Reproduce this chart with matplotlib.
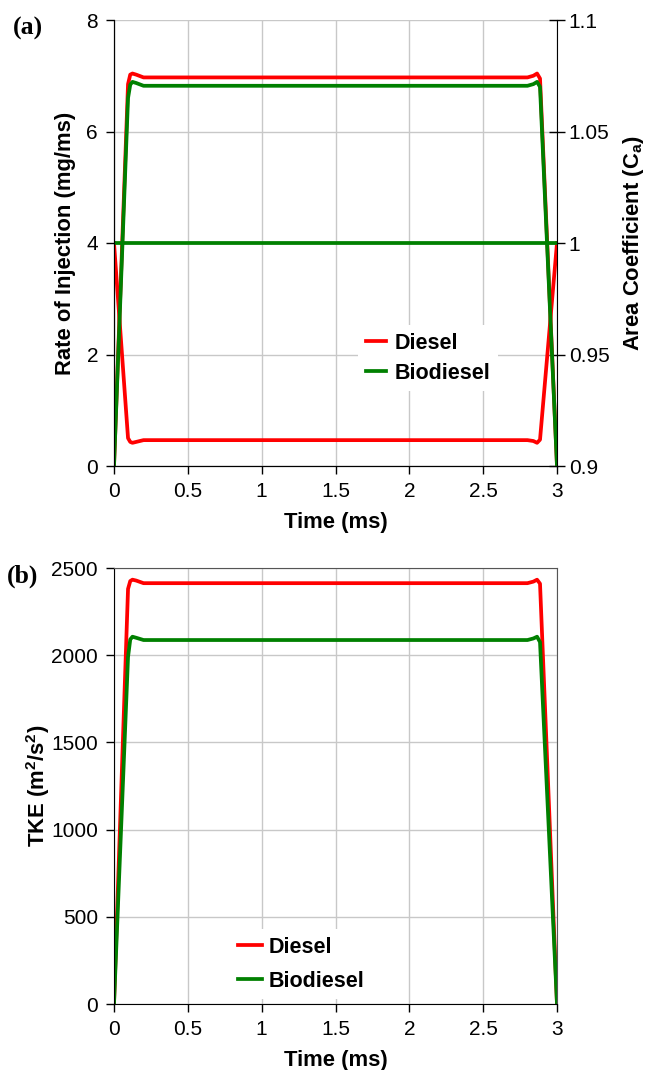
import matplotlib
matplotlib.use("Agg")
import matplotlib.pyplot as plt

plt.rcParams['font.family'] = ['Liberation Sans', 'DejaVu Sans']
plt.rcParams['mathtext.fontset'] = 'custom'
plt.rcParams['mathtext.rm'] = 'Liberation Sans:bold'
plt.rcParams['mathtext.bf'] = 'Liberation Sans:bold'
plt.rcParams['mathtext.it'] = 'Liberation Sans:bold'
plt.rcParams['mathtext.default'] = 'rm'

# ---- data ----
time_rate = [0.0, 0.095, 0.11, 0.125, 0.15, 0.2, 2.8, 2.84, 2.865, 2.885, 3.0]
diesel_rate = [0.0, 6.85, 7.02, 7.04, 7.02, 6.97, 6.97, 7.00, 7.04, 6.95, 0.0]
biodiesel_rate = [0.0, 6.6, 6.84, 6.89, 6.87, 6.82, 6.82, 6.85, 6.89, 6.80, 0.0]

time_ca = [0.0, 0.095, 0.11, 0.125, 0.15, 0.2, 2.8, 2.84, 2.865, 2.885, 3.0]
diesel_ca = [1.0, 0.9125, 0.9108, 0.9104, 0.9108, 0.9116, 0.9116, 0.9112, 0.9104, 0.9118, 1.0]
time_ca_bio = [0.0, 3.0]
biodiesel_ca = [1.0, 1.0]

time_tke = [0.0, 0.095, 0.11, 0.125, 0.15, 0.2, 2.8, 2.84, 2.865, 2.885, 3.0]
diesel_tke = [0, 2380, 2425, 2433, 2428, 2413, 2413, 2422, 2433, 2410, 0]
biodiesel_tke = [0, 1990, 2090, 2106, 2100, 2087, 2087, 2096, 2106, 2075, 0]

xticks = [0, 0.5, 1, 1.5, 2, 2.5, 3]
xticklabels = ['0', '0.5', '1', '1.5', '2', '2.5', '3']
rate_ticks = [0, 2, 4, 6, 8]
ca_ticks = [0.9, 0.95, 1.0, 1.05, 1.1]
ca_ticklabels = ['0.9', '0.95', '1', '1.05', '1.1']
tke_ticks = [0, 500, 1000, 1500, 2000, 2500]

RED = '#ff0000'
GREEN = '#008000'
GRID = '#c8c8c8'
LW = 2.7
TFS = 15      # tick labels
LFS = 15.8    # axis labels
GFS = 15.5    # legend
PFS = 18.5    # panel letters

W, H = 661, 1070
def fx(px):
    return px / W
def fy(px):
    return 1 - px / H

X0, X1 = 114, 557

fig = plt.figure(figsize=(6.61, 10.70), dpi=100)

def rate_to_ca(v):
    return 0.9 + v * 0.025

# ---- panel (a) ----
T0, B0 = 20, 466
ax1 = fig.add_axes([fx(X0), fy(B0), (X1 - X0) / W, (B0 - T0) / H])
ax1.set_xlim(0, 3)
ax1.set_ylim(0, 8)
ax1.set_xticks(xticks)
ax1.set_xticklabels(xticklabels)
ax1.set_yticks(rate_ticks)
ax1.grid(True, color=GRID, lw=1.0)
ax1.set_axisbelow(True)
ax1.spines['top'].set_visible(False)
ax1.spines['right'].set_visible(False)
ax1.tick_params(axis='both', labelsize=TFS, direction='out', length=5.5, width=1)
ax1.tick_params(axis='x', pad=6)
ax1.tick_params(axis='y', pad=6)
ax1.set_xlabel('Time (ms)', fontsize=LFS, fontweight='bold')
ax1.xaxis.set_label_coords(0.5, -0.103)
ax1.set_ylabel('Rate of Injection (mg/ms)', fontsize=LFS, fontweight='bold')
ax1.yaxis.set_label_coords((76 - X0) / (X1 - X0), 0.5)

ax2 = ax1.twinx()
ax2.set_ylim(0.9, 1.1)
ax2.set_yticks(ca_ticks)
ax2.set_yticklabels(ca_ticklabels)
ax2.spines['top'].set_visible(False)
ax2.tick_params(axis='y', labelsize=TFS, direction='inout', length=11, width=1, pad=3)
ax2.set_ylabel(r'Area Coefficient (C$_{a}$)', fontsize=LFS, fontweight='bold')
ax2.yaxis.set_label_coords((621 - X0) / (X1 - X0), 0.5)

ax2.plot(time_ca, diesel_ca, color=RED, lw=LW, solid_joinstyle='round')
ax2.plot(time_rate, [rate_to_ca(v) for v in diesel_rate], color=RED, lw=LW, solid_joinstyle='round')
ax2.plot(time_rate, [rate_to_ca(v) for v in biodiesel_rate], color=GREEN, lw=LW, solid_joinstyle='round')
ax2.plot(time_ca_bio, biodiesel_ca, color=GREEN, lw=LW)

handles = [plt.Line2D([], [], color=RED, lw=LW), plt.Line2D([], [], color=GREEN, lw=LW)]
ax2.legend(handles=handles, labels=['Diesel', 'Biodiesel'], loc='upper left',
           bbox_to_anchor=(fx(358), fy(325)), bbox_transform=fig.transFigure,
           frameon=True, fancybox=False, edgecolor='none', facecolor='white', framealpha=1,
           prop={'weight': 'bold', 'size': GFS}, handlelength=0.95,
           handletextpad=0.4, borderpad=0.35, labelspacing=0.42, borderaxespad=0)

fig.text(fx(13), fy(28), '(a)', fontsize=PFS, fontweight='bold',
         family=['Liberation Serif'], ha='left', va='center')

# ---- panel (b) ----
T1, B1 = 568, 1004
ax3 = fig.add_axes([fx(X0), fy(B1), (X1 - X0) / W, (B1 - T1) / H])
ax3.set_xlim(0, 3)
ax3.set_ylim(0, 2500)
ax3.set_xticks(xticks)
ax3.set_xticklabels(xticklabels)
ax3.set_yticks(tke_ticks)
ax3.grid(True, color=GRID, lw=1.0)
ax3.set_axisbelow(True)
for s in ['top', 'right']:
    ax3.spines[s].set_color('#555555')
ax3.tick_params(axis='both', labelsize=TFS, direction='out', length=5.5, width=1, pad=6)
ax3.set_xlabel('Time (ms)', fontsize=LFS, fontweight='bold')
ax3.xaxis.set_label_coords(0.5, -46 / (B1 - T1))
ax3.set_ylabel(r'TKE (m$^2$/s$^2$)', fontsize=LFS, fontweight='bold')
ax3.yaxis.set_label_coords((52 - X0) / (X1 - X0), 0.5)

ax3.plot(time_tke, diesel_tke, color=RED, lw=LW, solid_joinstyle='round', label='Diesel')
ax3.plot(time_tke, biodiesel_tke, color=GREEN, lw=LW, solid_joinstyle='round', label='Biodiesel')
ax3.legend(loc='upper left', bbox_to_anchor=(fx(230), fy(929)), bbox_transform=fig.transFigure,
           frameon=True, fancybox=False, edgecolor='none', facecolor='white', framealpha=1,
           prop={'weight': 'bold', 'size': GFS}, handlelength=1.15,
           handletextpad=0.3, borderpad=0.35, labelspacing=0.62, borderaxespad=0)

fig.text(fx(7), fy(576), '(b)', fontsize=PFS, fontweight='bold',
         family=['Liberation Serif'], ha='left', va='center')

fig.savefig('out.png', dpi=100)
